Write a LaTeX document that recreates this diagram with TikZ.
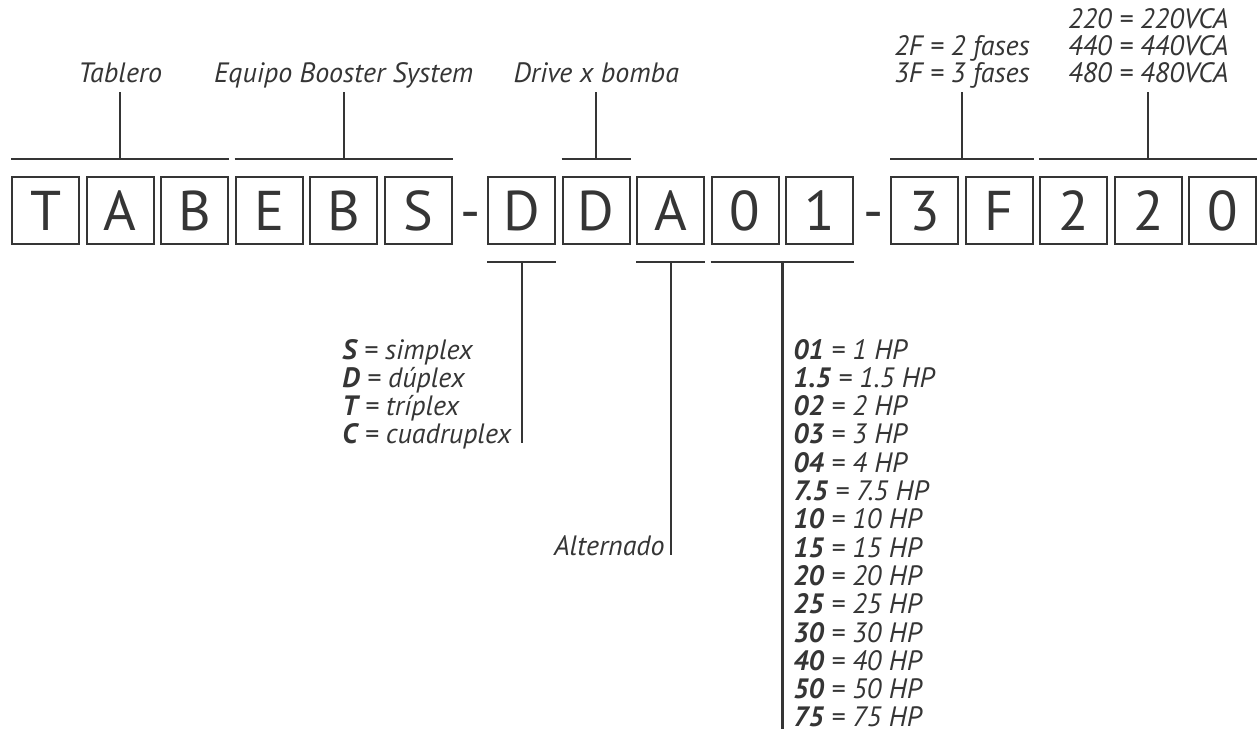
\documentclass[tikz,border=0pt]{standalone}
\usepackage{fontspec}
\setmainfont{PT Sans}
\definecolor{ink}{HTML}{353535}
\begin{document}
\begin{tikzpicture}[x=0.5pt, y=-0.5pt,
    every node/.style={text=ink},
    charbox/.style={draw=ink, line width=1.1pt, minimum size=33.6pt, inner sep=0pt,
      font=\fontsize{28}{28}\selectfont, text height=19.6pt, text depth=0pt},
    dashmark/.style={anchor=base, inner sep=0pt, font=\fontsize{28}{28}\selectfont},
    toplbl/.style={anchor=base, font=\fontsize{14}{14}\selectfont\itshape,
      text depth=0pt, inner ysep=4.5pt},
    lowlbl/.style={anchor=base west, inner sep=0pt, font=\fontsize{14}{14}\selectfont\itshape},
    bracket/.style={draw=ink, line width=1.1pt}]
    \useasboundingbox (0,0) rectangle (1259,738);

    % the code letters
    \foreach \ch [count=\i from 0] in {T,A,B,E,B,S}
        \node[charbox] (a\i) at (45.75+74.5*\i,210.5) {\ch};
    \foreach \ch [count=\i from 0] in {D,D,A,0,1}
        \node[charbox] (b\i) at (521.75+74.5*\i,210.5) {\ch};
    \foreach \ch [count=\i from 0] in {3,F,2,2,0}
        \node[charbox] (c\i) at (924.75+74.5*\i,210.5) {\ch};
    \node[dashmark] (dash1) at (470.5,230.5) {-};
    \node[dashmark] (dash2) at (873.5,230.5) {-};

    % brackets above
    \draw[bracket] ([yshift=8.5pt]a0.north west) -- ([yshift=8.5pt]a2.north east) coordinate[midway] (tabmid);
    \node[toplbl] (tab) at (tabmid |- 0,83) {Tablero};
    \draw[bracket] (tabmid) -- (tab);

    \draw[bracket] ([yshift=8.5pt]a3.north west) -- ([yshift=8.5pt]a5.north east) coordinate[midway] (bsmid);
    \node[toplbl] (bs) at (bsmid |- 0,83) {Equipo Booster System};
    \draw[bracket] (bsmid) -- (bs);

    \draw[bracket] ([yshift=8.5pt]b1.north west) -- ([yshift=8.5pt]b1.north east) coordinate[midway] (drvmid);
    \node[toplbl] (drv) at (drvmid |- 0,83) {Drive x bomba};
    \draw[bracket] (drvmid) -- (drv);

    \draw[bracket] ([yshift=8.5pt]c0.north west) -- ([yshift=8.5pt]c1.north east) coordinate[midway] (phmid);
    \node[toplbl] (ph0) at (phmid |- 0,56) {2F = 2 fases};
    \node[toplbl] (ph1) at (phmid |- 0,83) {3F = 3 fases};
    \draw[bracket] (phmid) -- (ph1);

    \draw[bracket] ([yshift=8.5pt]c2.north west) -- ([yshift=8.5pt]c4.north east) coordinate[midway] (vmid);
    \node[toplbl] (v0) at (vmid |- 0,29) {220 = 220VCA};
    \node[toplbl] (v1) at (vmid |- 0,56) {440 = 440VCA};
    \node[toplbl] (v2) at (vmid |- 0,83) {480 = 480VCA};
    \draw[bracket] (vmid) -- (v2);

    % brackets below
    \draw[bracket] ([yshift=-8.5pt]b0.south west) -- ([yshift=-8.5pt]b0.south east) coordinate[midway] (modmid);
    \foreach \k/\v [count=\i from 0] in {S/simplex, D/dúplex, T/tríplex, C/cuadruplex}
        \node[lowlbl] (mod\i) at (342,359+28*\i) {\textbf{\k} = \v};
    \draw[bracket] (modmid) -- (modmid |- mod3.base);

    \draw[bracket] ([yshift=-8.5pt]b2.south west) -- ([yshift=-8.5pt]b2.south east) coordinate[midway] (altmid);
    \node[lowlbl, anchor=base east] (alt) at (665,555) {Alternado};
    \draw[bracket] (altmid) -- (altmid |- alt.base);

    \draw[bracket] ([yshift=-8.5pt]b3.south west) -- ([yshift=-8.5pt]b4.south east) coordinate[midway] (hpmid);
    \foreach \k/\v [count=\i from 0] in {01/1,1.5/1.5,02/2,03/3,04/4,7.5/7.5,10/10,15/15,20/20,25/25,30/30,40/40,50/50,75/75}
        \node[lowlbl] (hp\i) at (793,359+28.3*\i) {\textbf{\k} = \v\ HP};
    \draw[bracket] (hpmid) -- ([yshift=-1pt]hpmid |- hp13.base);
\end{tikzpicture}
\end{document}
